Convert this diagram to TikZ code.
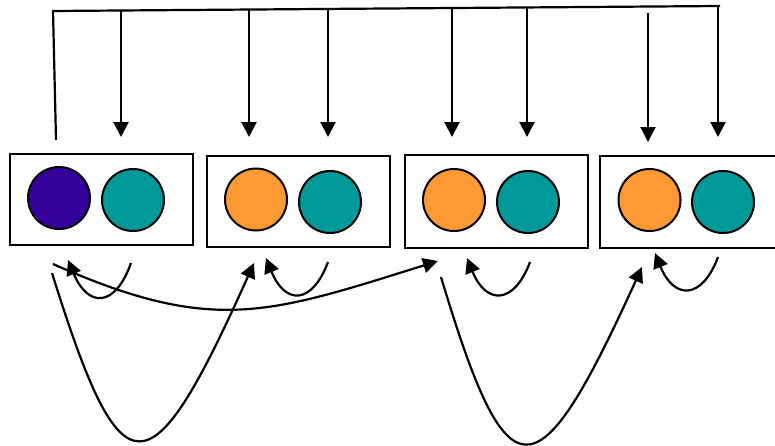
\documentclass[tikz,border=0pt]{standalone}
\usetikzlibrary{arrows.meta}
\definecolor{cpurple}{RGB}{51,0,153}
\definecolor{cteal}{RGB}{0,153,153}
\definecolor{corange}{RGB}{255,153,51}
\begin{document}
\begin{tikzpicture}[x=1pt,y=-1pt,
  conn/.style={line width=2.2pt},
  arr/.style={line width=2.2pt,-{Triangle[length=15pt,width=15pt]}},
  cellbox/.style={draw,line width=2.3pt,minimum width=183pt,minimum height=91pt,inner sep=0pt},
  ball/.style={circle,draw,line width=2pt,minimum size=62pt,inner sep=0pt}]
\useasboundingbox (0,0) rectangle (775,445);
% boxes
\node[cellbox] (b1) at (101.5,199.5) {};
\node[cellbox] (b2) at (298.5,201.5) {};
\node[cellbox,minimum height=93pt] (b3) at (496.5,201.5) {};
\node[cellbox,minimum height=92pt] (b4) at (691.5,202) {};
% circles
\node[ball,fill=cpurple] (p1) at (59,198) {};
\node[ball,fill=cteal] (t1) at (133,200) {};
\node[ball,fill=corange] (o2) at (256,199.5) {};
\node[ball,fill=cteal] (t2) at (330,202) {};
\node[ball,fill=corange] (o3) at (454,200) {};
\node[ball,fill=cteal] (t3) at (528,202) {};
\node[ball,fill=corange] (o4) at (649.5,200) {};
\node[ball,fill=cteal] (t4) at (723,202) {};
% top bus
\coordinate (s0) at (56,140);
\coordinate (c0) at (53,11);
\coordinate (cE) at (720,6);
\draw[conn] (s0) -- (c0) -- (cE);
\coordinate (j1) at (121,10.5);   \coordinate (e1) at (121,137);
\coordinate (j2) at (249,9.5);    \coordinate (e2) at (249,137);
\coordinate (j3) at (328,8.9);    \coordinate (e3) at (328,137);
\coordinate (j4) at (452,8.0);    \coordinate (e4) at (452,137);
\coordinate (j5) at (527,7.4);    \coordinate (e5) at (527,137);
\coordinate (j6) at (648,13);     \coordinate (e6) at (648,142);
\coordinate (j7) at (718,6.0);    \coordinate (e7) at (718,137);
\foreach \i in {1,...,7} {\draw[arr] (j\i) -- (e\i);}
% bottom loops
\coordinate (l1s) at (131,263); \coordinate (l1e) at (68,260);
\draw[arr] (l1s) .. controls (115,308) and (88,308) .. (l1e);
\coordinate (l2s) at (328,262); \coordinate (l2e) at (266,258);
\draw[arr] (l2s) .. controls (312,305) and (285,305) .. (l2e);
\coordinate (l3s) at (530,262); \coordinate (l3e) at (467,258);
\draw[arr] (l3s) .. controls (514,305) and (486,305) .. (l3e);
\coordinate (l4s) at (718,257); \coordinate (l4e) at (655,253);
\draw[arr] (l4s) .. controls (702,300) and (674,300) .. (l4e);
% long curve
\coordinate (ls) at (53,264); \coordinate (le) at (438,261);
\draw[arr] (ls) .. controls (213,335) and (268,314) .. (le);
% big U curves
\coordinate (u1s) at (52,273); \coordinate (u1e) at (254,263);
\draw[arr] (u1s) .. controls (122,497) and (149,497) .. (u1e);
\coordinate (u2s) at (441,277); \coordinate (u2e) at (642,267);
\draw[arr] (u2s) .. controls (508,500) and (536,500) .. (u2e);
\end{tikzpicture}
\end{document}
